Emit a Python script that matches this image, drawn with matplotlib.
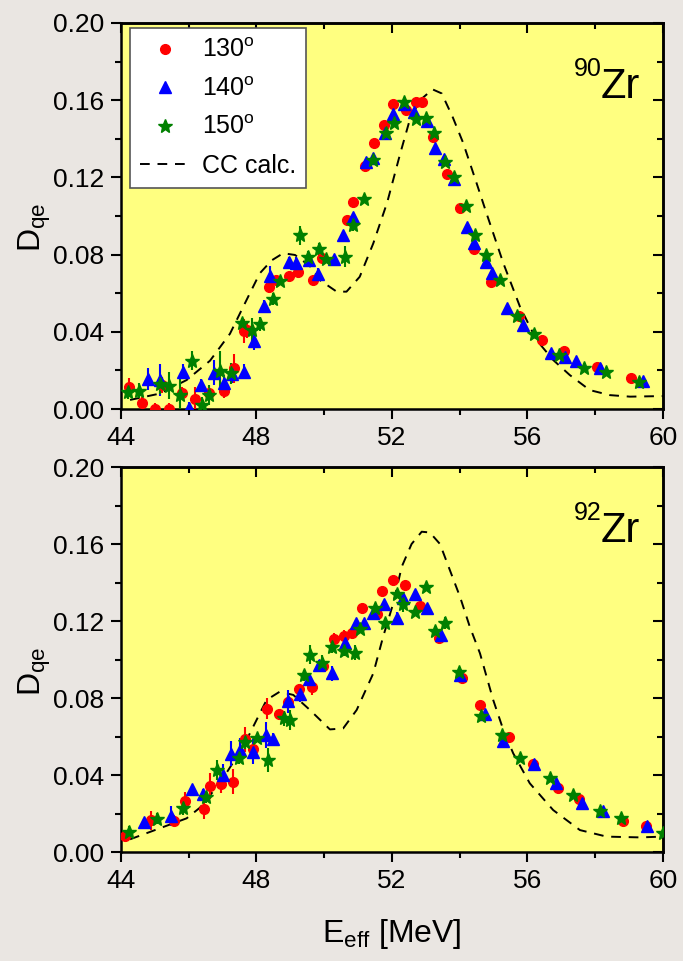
import matplotlib
matplotlib.use("Agg")
import matplotlib.pyplot as plt
from matplotlib.lines import Line2D
from matplotlib.ticker import MultipleLocator, FormatStrFormatter

plt.rcParams['font.family'] = ['Liberation Sans', 'DejaVu Sans']
plt.rcParams['mathtext.fontset'] = 'custom'
plt.rcParams['mathtext.rm'] = 'Liberation Sans'
plt.rcParams['mathtext.it'] = 'Liberation Sans:italic'
plt.rcParams['mathtext.bf'] = 'Liberation Sans:bold'

# ---------------- data: 90Zr (top panel) ----------------
zr90_130_x = [44.24, 44.61, 45.0, 45.2, 45.42, 45.79, 46.18, 46.6, 47.04, 47.34,
              47.63, 47.73, 48.36, 48.57, 48.97, 49.22, 49.68, 49.95, 50.66, 50.84,
              51.22, 51.48, 51.76, 52.03, 52.43, 52.71, 52.9, 53.2, 53.63, 54.02,
              54.42, 54.93, 55.76, 56.44, 57.09, 58.04, 59.06]
zr90_130_y = [0.0112, 0.0033, 0.0, 0.0124, 0.0, 0.0085, 0.005, 0.0085, 0.0093, 0.021,
              0.0404, 0.041, 0.063, 0.067, 0.069, 0.071, 0.067, 0.078, 0.098, 0.107,
              0.126, 0.138, 0.147, 0.158, 0.155, 0.159, 0.159, 0.141, 0.122, 0.104,
              0.083, 0.066, 0.048, 0.036, 0.030, 0.022, 0.016]
zr90_130_e = [0.0047, 0.003, 0.003, 0.004, 0.003, 0.003, 0.0065, 0.0035, 0.0035, 0.0076,
              0.006, 0.004, 0.003, 0.002, 0.002, 0.003, 0.002, 0.002, 0.002, 0.002,
              0.002, 0.001, 0.001, 0.001, 0.001, 0.001, 0.001, 0.001, 0.001, 0.001,
              0.001, 0.001, 0.001, 0.001, 0.001, 0.001, 0.001]

zr90_140_x = [44.79, 45.15, 45.84, 46.0, 46.35, 46.75, 47.05, 47.27, 47.63, 47.93,
              48.23, 48.4, 48.96, 49.17, 49.56, 49.82, 50.29, 50.56, 50.86, 51.25,
              51.43, 51.81, 52.04, 52.36, 52.65, 53.03, 53.27, 53.54, 53.83, 54.23,
              54.41, 54.79, 54.94, 55.4, 55.86, 56.71, 57.1, 57.43, 58.14, 59.42]
zr90_140_y = [0.0154, 0.015, 0.0193, 0.0005, 0.0124, 0.0188, 0.0136, 0.0183, 0.0193, 0.0354,
              0.0534, 0.069, 0.076, 0.0755, 0.077, 0.070, 0.0775, 0.090, 0.0996, 0.128,
              0.130, 0.143, 0.153, 0.158, 0.154, 0.149, 0.135, 0.1295, 0.119, 0.0944,
              0.086, 0.076, 0.0706, 0.0525, 0.0435, 0.029, 0.027, 0.025, 0.0214, 0.0145]
zr90_140_e = [0.0058, 0.0085, 0.004, 0.003, 0.003, 0.0065, 0.004, 0.005, 0.004, 0.005,
              0.003, 0.005, 0.003, 0.003, 0.003, 0.003, 0.002, 0.002, 0.002, 0.002,
              0.001, 0.001, 0.001, 0.001, 0.001, 0.001, 0.001, 0.001, 0.001, 0.001,
              0.001, 0.001, 0.001, 0.001, 0.001, 0.001, 0.001, 0.001, 0.001, 0.001]

zr90_150_x = [44.22, 44.54, 45.15, 45.42, 45.74, 46.09, 46.4, 46.6, 46.92, 47.24,
              47.58, 47.86, 48.1, 48.5, 48.71, 49.28, 49.53, 49.86, 50.05, 50.63,
              50.84, 51.19, 51.43, 51.84, 52.06, 52.35, 52.7, 53.02, 53.25, 53.57,
              53.84, 54.2, 54.44, 54.78, 55.19, 55.68, 56.19, 56.94, 57.66, 58.31,
              59.3]
zr90_150_y = [0.009, 0.0095, 0.0128, 0.012, 0.0073, 0.025, 0.002, 0.0073, 0.0198, 0.0185,
              0.0444, 0.041, 0.044, 0.057, 0.0663, 0.090, 0.079, 0.083, 0.0778, 0.079,
              0.0953, 0.109, 0.129, 0.143, 0.148, 0.159, 0.150, 0.151, 0.143, 0.128,
              0.120, 0.105, 0.090, 0.080, 0.067, 0.048, 0.039, 0.028, 0.021, 0.019,
              0.0141]
zr90_150_e = [0.004, 0.004, 0.005, 0.007, 0.008, 0.005, 0.004, 0.005, 0.010, 0.0055,
              0.003, 0.006, 0.0035, 0.003, 0.002, 0.005, 0.003, 0.003, 0.002, 0.0055,
              0.003, 0.001, 0.001, 0.001, 0.001, 0.001, 0.001, 0.001, 0.001, 0.001,
              0.001, 0.001, 0.001, 0.001, 0.001, 0.001, 0.001, 0.001, 0.001, 0.001,
              0.001]

zr90_cc_x = [44.27, 45.15, 45.94, 46.63, 47.22, 47.71, 48.1, 48.45, 48.79, 49.14,
             49.58, 49.87, 50.37, 50.66, 51.05, 51.45, 51.86, 52.24, 52.53, 52.83,
             53.2, 53.47, 53.8, 54.1, 54.5, 54.8, 55.29, 55.78, 56.27, 56.76,
             57.25, 57.84, 58.43, 59.03, 60.0]
zr90_cc_y = [0.0047, 0.008, 0.015, 0.025, 0.039, 0.0565, 0.0703, 0.077, 0.0807, 0.0798,
             0.074, 0.0668, 0.0608, 0.0608, 0.0685, 0.0858, 0.107, 0.132, 0.150, 0.160,
             0.1656, 0.1635, 0.151, 0.138, 0.117, 0.101, 0.0755, 0.053, 0.0357, 0.0254,
             0.0176, 0.0098, 0.0072, 0.0064, 0.0067]

# ---------------- data: 92Zr (bottom panel) ----------------
zr92_130_x = [44.12, 44.9, 45.57, 45.88, 46.44, 46.64, 46.95, 47.32, 47.66, 47.89,
              48.32, 48.66, 48.94, 49.25, 49.63, 49.98, 50.3, 50.58, 50.83, 51.11,
              51.55, 51.71, 52.02, 52.38, 52.83, 53.38, 54.06, 54.61, 55.47, 56.17,
              56.91, 57.53, 58.81, 59.5]
zr92_130_y = [0.0083, 0.0165, 0.0163, 0.0263, 0.0223, 0.0343, 0.0353, 0.0364, 0.0585, 0.0535,
              0.0745, 0.0715, 0.0778, 0.0845, 0.0855, 0.0966, 0.1106, 0.1124, 0.1136, 0.1266,
              0.1236, 0.1356, 0.1413, 0.1387, 0.1278, 0.1113, 0.0905, 0.0765, 0.0596, 0.0456,
              0.0331, 0.0274, 0.0161, 0.0135]
zr92_130_e = [0.0025, 0.005, 0.003, 0.005, 0.005, 0.0065, 0.0045, 0.0065, 0.0067, 0.004,
              0.0056, 0.002, 0.004, 0.003, 0.004, 0.003, 0.003, 0.003, 0.003, 0.002,
              0.003, 0.002, 0.002, 0.002, 0.002, 0.001, 0.001, 0.001, 0.001, 0.001,
              0.001, 0.001, 0.001, 0.001]

zr92_140_x = [44.68, 45.48, 46.1, 46.41, 47.02, 47.24, 47.53, 47.89, 48.27, 48.5,
              48.92, 49.28, 49.55, 49.85, 50.24, 50.63, 50.93, 51.19, 51.45, 51.76,
              52.16, 52.33, 52.67, 53.04, 53.46, 54.01, 54.75, 55.29, 56.19, 56.84,
              57.61, 58.24, 59.54]
zr92_140_y = [0.0157, 0.0187, 0.0326, 0.030, 0.040, 0.051, 0.053, 0.052, 0.0608, 0.0589,
              0.0784, 0.082, 0.0897, 0.097, 0.0928, 0.1087, 0.1188, 0.1188, 0.124, 0.1288,
              0.1217, 0.132, 0.1339, 0.1266, 0.1127, 0.092, 0.0717, 0.0577, 0.0457, 0.0357,
              0.0256, 0.0215, 0.0135]
zr92_140_e = [0.002, 0.005, 0.002, 0.003, 0.0056, 0.0065, 0.006, 0.0065, 0.007, 0.003,
              0.006, 0.004, 0.003, 0.003, 0.004, 0.003, 0.002, 0.002, 0.002, 0.002,
              0.003, 0.002, 0.002, 0.001, 0.001, 0.001, 0.001, 0.001, 0.001, 0.001,
              0.001, 0.001, 0.001]

zr92_150_x = [44.25, 45.08, 45.84, 46.5, 46.85, 47.49, 47.66, 48.02, 48.33, 48.81,
              48.99, 49.4, 49.58, 49.94, 50.24, 50.59, 50.9, 51.06, 51.5, 51.8,
              52.14, 52.32, 52.68, 53.02, 53.27, 53.56, 53.98, 54.64, 55.24, 55.78,
              56.68, 57.35, 58.14, 58.76, 60.0]
zr92_150_y = [0.0104, 0.0173, 0.023, 0.0284, 0.0426, 0.0487, 0.0573, 0.0594, 0.0478, 0.0694,
              0.0686, 0.0918, 0.1025, 0.0983, 0.1066, 0.1046, 0.1035, 0.1157, 0.127, 0.1188,
              0.1339, 0.1287, 0.1248, 0.1375, 0.115, 0.1191, 0.0937, 0.0705, 0.0608, 0.0487,
              0.0386, 0.0296, 0.0213, 0.0175, 0.010]
zr92_150_e = [0.003, 0.003, 0.004, 0.003, 0.005, 0.003, 0.004, 0.002, 0.0062, 0.004,
              0.0054, 0.003, 0.005, 0.004, 0.003, 0.003, 0.004, 0.002, 0.002, 0.002,
              0.002, 0.004, 0.002, 0.002, 0.002, 0.003, 0.001, 0.001, 0.001, 0.001,
              0.001, 0.001, 0.001, 0.001, 0.001]

zr92_cc_x = [44.27, 45.25, 45.94, 46.33, 46.92, 47.61, 48.3, 48.69, 49.09, 49.58,
             50.17, 50.56, 50.96, 51.45, 51.74, 52.04, 52.29, 52.58, 52.88, 53.12,
             53.42, 53.71, 54.01, 54.3, 54.6, 54.99, 55.29, 55.58, 56.07, 56.76,
             57.55, 58.34, 59.32, 60.0]
zr92_cc_y = [0.0066, 0.013, 0.0175, 0.023, 0.0357, 0.0547, 0.079, 0.0833, 0.0816, 0.0738,
             0.0637, 0.0642, 0.0738, 0.0928, 0.1118, 0.1292, 0.1482, 0.160, 0.1664, 0.166,
             0.160, 0.1465, 0.1326, 0.117, 0.1032, 0.079, 0.0634, 0.0513, 0.0357, 0.0218,
             0.0114, 0.008, 0.0076, 0.008]

angle_labels = ['130$^{\\mathregular{o}}$', '140$^{\\mathregular{o}}$', '150$^{\\mathregular{o}}$']
cc_label = 'CC calc.'
x_ticks = [44, 48, 52, 56, 60]
y_ticks = [0.00, 0.04, 0.08, 0.12, 0.16, 0.20]

# ---------------- styling ----------------
FIG_BG = '#EAE6E2'
AX_BG = '#FFFF80'
colors = ['#FF0000', '#0000FF', '#008000']
markers = ['o', '^', '*']
msizes = [7, 8, 10]
DASH = (0, (5, 4))

fig = plt.figure(figsize=(6.83, 9.61), dpi=100, facecolor=FIG_BG)
ax_top = fig.add_axes([0.177, 0.5744, 0.7936, 0.4017])
ax_bot = fig.add_axes([0.177, 0.1134, 0.7936, 0.4006])


def style_axes(ax):
    ax.set_facecolor(AX_BG)
    ax.set_xlim(44, 60)
    ax.set_ylim(0.0, 0.20)
    ax.set_xticks(x_ticks)
    ax.set_yticks(y_ticks)
    ax.xaxis.set_minor_locator(MultipleLocator(2))
    ax.yaxis.set_minor_locator(MultipleLocator(0.02))
    ax.yaxis.set_major_formatter(FormatStrFormatter('%.2f'))
    ax.xaxis.set_major_formatter(FormatStrFormatter('%d'))
    for s in ax.spines.values():
        s.set_linewidth(1.8)
        s.set_color('black')
    ax.tick_params(which='major', direction='out', length=7, width=1.5,
                   labelsize=19, pad=5, top=False, right=False)
    ax.tick_params(which='minor', direction='out', length=4, width=1.5,
                   top=False, right=False)
    sx = ax.secondary_xaxis('top')
    sx.set_xticks(x_ticks)
    sx.xaxis.set_minor_locator(MultipleLocator(2))
    sx.tick_params(which='major', direction='in', length=7, width=1.5, labeltop=False)
    sx.tick_params(which='minor', direction='in', length=4, width=1.5)
    sx.spines['top'].set_linewidth(1.8)
    sy = ax.secondary_yaxis('right')
    sy.set_yticks(y_ticks)
    sy.yaxis.set_minor_locator(MultipleLocator(0.02))
    sy.tick_params(which='major', direction='in', length=7, width=1.5, labelright=False)
    sy.tick_params(which='minor', direction='in', length=4, width=1.5)
    sy.spines['right'].set_linewidth(1.8)
    ax.set_ylabel(r'$\mathregular{D_{qe}}$', fontsize=23)
    ax.yaxis.set_label_coords(-0.125, 0.47)


def draw_panel(ax, series, cc_x, cc_y, nucleus):
    style_axes(ax)
    ax.plot(cc_x, cc_y, color='black', lw=1.4, ls=DASH, zorder=2)
    for (x, y, e), c, m, ms in zip(series, colors, markers, msizes):
        ax.errorbar(x, y, yerr=e, fmt=m, color=c, mfc=c, mec=c, ms=ms,
                    elinewidth=1.5, capsize=0, zorder=3)
    ax.text(0.9576, 0.806, 'Zr', transform=ax.transAxes, fontsize=30,
            ha='right', va='baseline')
    ax.text(0.887, 0.862, nucleus, transform=ax.transAxes, fontsize=18,
            ha='right', va='baseline')


draw_panel(ax_top,
           [(zr90_130_x, zr90_130_y, zr90_130_e),
            (zr90_140_x, zr90_140_y, zr90_140_e),
            (zr90_150_x, zr90_150_y, zr90_150_e)],
           zr90_cc_x, zr90_cc_y, '90')
draw_panel(ax_bot,
           [(zr92_130_x, zr92_130_y, zr92_130_e),
            (zr92_140_x, zr92_140_y, zr92_140_e),
            (zr92_150_x, zr92_150_y, zr92_150_e)],
           zr92_cc_x, zr92_cc_y, '92')

ax_bot.set_xlabel(r'$\mathregular{E_{eff}}$ [MeV]', fontsize=23)
ax_bot.xaxis.set_label_coords(0.5, -0.17)

handles = [Line2D([], [], ls='none', marker=m, color=c, ms=ms)
           for c, m, ms in zip(colors, markers, msizes)]
handles.append(Line2D([], [], color='black', lw=1.4, ls=DASH))
leg = ax_top.legend(handles, angle_labels + [cc_label], loc='upper left',
                    bbox_to_anchor=(0.0166, 0.987), borderaxespad=0,
                    fontsize=18, frameon=True, fancybox=False,
                    handlelength=2.0, handletextpad=0.45, labelspacing=0.58,
                    borderpad=0.42)
leg.get_frame().set_edgecolor('#555555')
leg.get_frame().set_linewidth(1.2)
leg.get_frame().set_facecolor('white')
leg.get_frame().set_alpha(1)

fig.savefig('out.png', dpi=100, facecolor=FIG_BG)
